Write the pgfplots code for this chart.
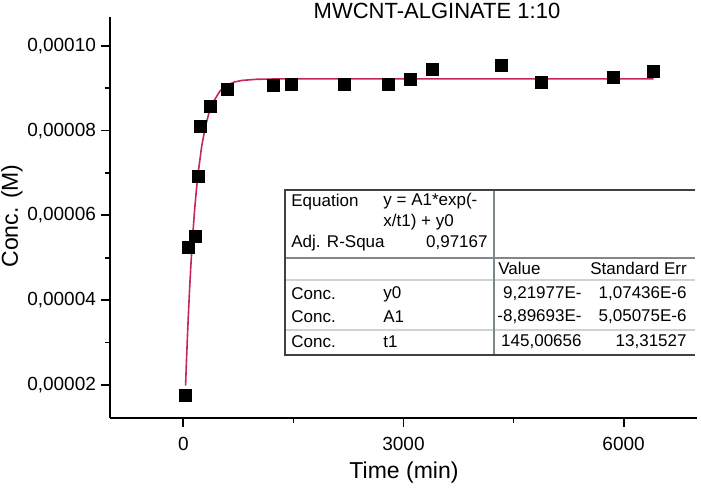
\documentclass[border=0pt]{standalone}
\usepackage{fontspec}
\setmainfont{Liberation Sans}
\usepackage{pgfplots}
\pgfplotsset{compat=1.18}

\definecolor{fitred}{RGB}{198,40,86}
\definecolor{tblgray}{RGB}{125,135,140}
\definecolor{tbllight}{RGB}{205,210,212}

\begin{document}
\begin{tikzpicture}
% picture = 701x487 px, 1 px = 0.5pt, axis box lower-left at px (110,418)
\path[use as bounding box] (-55pt,-34.5pt) rectangle (295.5pt,209pt);
\begin{axis}[
  at={(0,0)}, anchor=south west,
  width=293.5pt, height=200.5pt, scale only axis,
  xmin=-1000, xmax=7000,
  ymin=0.0000122, ymax=0.0001068,
  axis lines=left, axis line style={-, line width=1pt},
  xtick={0,3000,6000}, xticklabels={0,3000,6000},
  minor xtick={1500,4500},
  ytick={0.00002,0.00004,0.00006,0.00008,0.0001},
  yticklabels={{0,00002},{0,00004},{0,00006},{0,00008},{0,00010}},
  minor ytick={0.00003,0.00005,0.00007,0.00009},
  scaled y ticks=false, scaled x ticks=false,
  tick align=outside,
  major tick length=4.5pt, minor tick length=2.5pt,
  tick style={line width=0.9pt, black},
  tick label style={font=\fontsize{9.5}{11}\selectfont},
  xticklabel style={yshift=-1.5pt},
  yticklabel style={xshift=1pt},
  clip=false,
]
%% fitted curve y = y0 + A1 exp(-x/t1), tabulated
\addplot[fitred, line width=0.8pt] coordinates {
  (30,0.000019857)(40,0.000024680)(60,0.000033380)(80,0.000040952)
  (100,0.000047553)(125,0.000054626)(150,0.000060578)(175,0.000065587)
  (200,0.000069804)(250,0.000076335)(300,0.000080961)(350,0.000084238)
  (400,0.000086557)(500,0.000089368)(600,0.000090779)(700,0.000091485)
  (800,0.000091840)(1000,0.000092108)(1300,0.000092186)(2000,0.000092198)
  (6410,0.000092198)
};
%% measured points
\addplot[only marks, mark=square*, mark size=3pt, black] coordinates {
  (23,0.0000175)(68,0.0000524)(164,0.0000550)(209,0.0000691)
  (236,0.0000810)(364,0.0000858)(604,0.0000897)(1232,0.0000907)
  (1469,0.0000910)(2195,0.0000908)(2795,0.0000909)(3095,0.0000921)
  (3395,0.0000944)(4332,0.0000954)(4886,0.0000913)(5855,0.0000926)
  (6409,0.0000940)
};
\end{axis}
\begin{scope}[x=0.5pt,y=-0.5pt,shift={(-55pt,209pt)}]
  % title and axis labels
  \node[font=\fontsize{11}{13}\selectfont] at (437,11) {MWCNT-ALGINATE 1:10};
  \node[font=\fontsize{11.5}{13}\selectfont] at (404,473) {Time (min)};
  \node[font=\fontsize{11.5}{13}\selectfont, rotate=90] at (12,216) {Conc. (M)};
  % fit result table
  \fill[white] (285,190) rectangle (695,355);
  \draw[tbllight, line width=0.6pt] (285,280) -- (695,280) (285,330) -- (695,330);
  \draw[tblgray, line width=0.9pt] (285,258) -- (695,258);
  \draw[tblgray, line width=0.9pt] (494,190) -- (494,355);
  \draw[black!75, line width=1pt] (695,190) -- (285,190) -- (285,355) -- (695,355);
  \begin{scope}[every node/.style={font=\fontsize{8.5}{10}\selectfont, inner sep=0pt}]
    \node[anchor=west] at (291,202) {Equation};
    \node[anchor=west] at (383,201) {y = A1*exp(-};
    \node[anchor=west] at (383,222) {x/t1) + y0};
    \node[anchor=west] at (291,243) {Adj. R-Squa};
    \node[anchor=east] at (488,243) {0,97167};
    \node[anchor=west] at (498,268) {Value};
    \node[anchor=west] at (590,268) {Standard Err};
    \node[anchor=west] at (291,294) {Conc.};
    \node[anchor=west] at (383,294) {y0};
    \node[anchor=east] at (582,294) {9,21977E-};
    \node[anchor=east] at (687,294) {1,07436E-6};
    \node[anchor=west] at (291,317) {Conc.};
    \node[anchor=west] at (383,317) {A1};
    \node[anchor=east] at (582,317) {-8,89693E-};
    \node[anchor=east] at (687,317) {5,05075E-6};
    \node[anchor=west] at (291,342) {Conc.};
    \node[anchor=west] at (383,342) {t1};
    \node[anchor=east] at (582,342) {145,00656};
    \node[anchor=east] at (687,342) {13,31527};
  \end{scope}
\end{scope}
\end{tikzpicture}
\end{document}
